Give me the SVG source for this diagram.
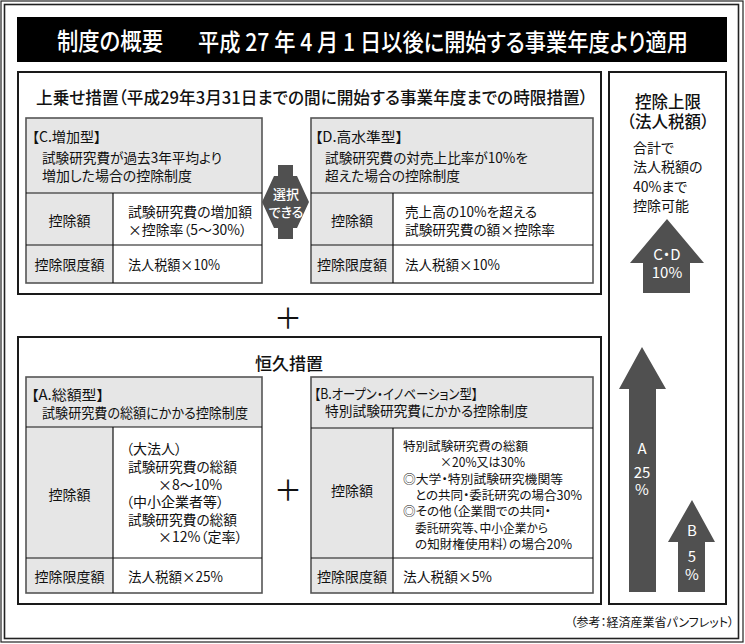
<svg xmlns="http://www.w3.org/2000/svg" width="745" height="644" viewBox="0 0 745 644">
<style>
text{font-family:"Noto Sans CJK JP","Noto Sans CJK SC",sans-serif;font-feature-settings:"palt" 1;dominant-baseline:central;fill:#111;font-size:14px}
.w{fill:#fff}
.m{text-anchor:middle}
.e{text-anchor:end}
.b{font-weight:500}
.s13{font-size:12.5px}
.box{fill:#fff;stroke:#1a1a1a;stroke-width:2}
.tbl{fill:none;stroke:#555;stroke-width:1.6}
.ln{stroke:#111;stroke-width:1.2}
.g{fill:#e6e6e6}
.arw{fill:#505050}
</style>
<rect width="745" height="644" fill="#fff"/>
<g id="outer-frame" fill="none" stroke="#222">
<rect x="1" y="1" width="742" height="641" stroke-width="1.2"/>
<rect x="4.5" y="4.5" width="734" height="634" stroke-width="1.6"/>
</g>
<g id="title-bar">
<rect x="17" y="17" width="710" height="45" fill="#000"/>
<g transform="translate(57,40) scale(0.8833,1)">
<text class="w b" x="0" y="0" style="font-size:24px" textLength="120" lengthAdjust="spacingAndGlyphs">制度の概要</text>
</g>
<g transform="translate(198,40) scale(0.8405,1)">
<text class="w b" x="0" y="0" style="font-size:24px" textLength="583" lengthAdjust="spacingAndGlyphs">平成 27 年 4 月 1 日以後に開始する事業年度より適用</text>
</g>
</g>
<g id="upper-box">
<rect class="box" x="18" y="72" width="583" height="222"/>
<text class="b" x="36" y="96" style="font-size:17px" textLength="552" lengthAdjust="spacingAndGlyphs">上乗せ措置（平成29年3月31日までの間に開始する事業年度までの時限措置）</text>
</g>
<g id="node-C">
<rect class="g" x="26" y="118" width="236" height="165"/>
<rect fill="#fff" x="113" y="193" width="149" height="90"/>
<rect class="tbl" x="26" y="118" width="236" height="165"/>
<line class="ln" x1="26" y1="193" x2="262" y2="193"/>
<line class="ln" x1="26" y1="245" x2="262" y2="245"/>
<line class="ln" x1="113" y1="193" x2="113" y2="283"/>
<text x="32" y="136" textLength="69" lengthAdjust="spacingAndGlyphs">【C.増加型】</text>
<text x="42" y="157" textLength="180" lengthAdjust="spacingAndGlyphs">試験研究費が過去3年平均より</text>
<text x="42" y="175" textLength="150" lengthAdjust="spacingAndGlyphs">増加した場合の控除制度</text>
<text class="m" x="69.5" y="220">控除額</text>
<text x="128" y="211" textLength="124" lengthAdjust="spacingAndGlyphs">試験研究費の増加額</text>
<text x="128" y="229" textLength="119" lengthAdjust="spacingAndGlyphs">×控除率（5〜30%）</text>
<text class="m" x="69.5" y="264">控除限度額</text>
<text x="128" y="264" textLength="92" lengthAdjust="spacingAndGlyphs">法人税額×10%</text>
</g>
<g id="node-D">
<rect class="g" x="311" y="118" width="282" height="165"/>
<rect fill="#fff" x="393" y="193" width="200" height="90"/>
<rect class="tbl" x="311" y="118" width="282" height="165"/>
<line class="ln" x1="311" y1="193" x2="593" y2="193"/>
<line class="ln" x1="311" y1="245" x2="593" y2="245"/>
<line class="ln" x1="393" y1="193" x2="393" y2="283"/>
<text x="315" y="136" textLength="88" lengthAdjust="spacingAndGlyphs">【D.高水準型】</text>
<text x="325" y="157" textLength="203" lengthAdjust="spacingAndGlyphs">試験研究費の対売上比率が10%を</text>
<text x="325" y="175" textLength="135" lengthAdjust="spacingAndGlyphs">超えた場合の控除制度</text>
<text class="m" x="352" y="220">控除額</text>
<text x="405" y="211" textLength="132" lengthAdjust="spacingAndGlyphs">売上高の10%を超える</text>
<text x="405" y="229" textLength="150" lengthAdjust="spacingAndGlyphs">試験研究費の額×控除率</text>
<text class="m" x="352" y="264">控除限度額</text>
<text x="405" y="264" textLength="95" lengthAdjust="spacingAndGlyphs">法人税額×10%</text>
</g>
<g id="connectors">
<polygon class="arw" points="278,165 293,165 293,176 297,176 309,202 297,228 293,228 293,239 278,239 278,228 274,228 262,202 274,176 278,176"/>
<text class="w m b" x="286" y="193" style="font-size:13px">選択</text>
<text class="w m b" x="286" y="211" style="font-size:13px">できる</text>
</g>
<g id="plus-upper">
<text class="m" x="288" y="317" style="font-size:28px">＋</text>
</g>
<g id="lower-box">
<rect class="box" x="18" y="337" width="583" height="267"/>
<text class="m b" x="289" y="362" style="font-size:17px">恒久措置</text>
</g>
<g id="node-A">
<rect class="g" x="26" y="377" width="236" height="216"/>
<rect fill="#fff" x="113" y="427" width="149" height="166"/>
<rect class="tbl" x="26" y="377" width="236" height="216"/>
<line class="ln" x1="26" y1="427" x2="262" y2="427"/>
<line class="ln" x1="26" y1="558" x2="262" y2="558"/>
<line class="ln" x1="113" y1="427" x2="113" y2="593"/>
<text x="31" y="394" textLength="73" lengthAdjust="spacingAndGlyphs">【A.総額型】</text>
<text x="42" y="412" textLength="206" lengthAdjust="spacingAndGlyphs">試験研究費の総額にかかる控除制度</text>
<text class="m" x="69.5" y="494">控除額</text>
<text x="126" y="448">（大法人）</text>
<text x="128" y="466" textLength="109" lengthAdjust="spacingAndGlyphs">試験研究費の総額</text>
<text x="158" y="483.5">×8〜10%</text>
<text x="126" y="501">（中小企業者等）</text>
<text x="128" y="518.5" textLength="109" lengthAdjust="spacingAndGlyphs">試験研究費の総額</text>
<text x="158" y="536">×12%（定率）</text>
<text class="m" x="69.5" y="576">控除限度額</text>
<text x="128" y="576" textLength="95" lengthAdjust="spacingAndGlyphs">法人税額×25%</text>
</g>
<g id="plus-lower">
<text class="m" x="288" y="489" style="font-size:28px">＋</text>
</g>
<g id="node-B">
<rect class="g" x="311" y="377" width="282" height="216"/>
<rect fill="#fff" x="393" y="428" width="200" height="165"/>
<rect class="tbl" x="311" y="377" width="282" height="216"/>
<line class="ln" x1="311" y1="428" x2="593" y2="428"/>
<line class="ln" x1="311" y1="558" x2="593" y2="558"/>
<line class="ln" x1="393" y1="428" x2="393" y2="593"/>
<text x="314" y="393" textLength="164" lengthAdjust="spacingAndGlyphs">【B.オープン・イノベーション型】</text>
<text x="325" y="410" textLength="203" lengthAdjust="spacingAndGlyphs">特別試験研究費にかかる控除制度</text>
<text class="m" x="352" y="490">控除額</text>
<text class="s13" x="403" y="445" textLength="125" lengthAdjust="spacingAndGlyphs">特別試験研究費の総額</text>
<text class="s13" x="440" y="461.5" textLength="85" lengthAdjust="spacingAndGlyphs">×20%又は30%</text>
<text class="s13" x="403" y="478" textLength="160" lengthAdjust="spacingAndGlyphs">◎大学・特別試験研究機関等</text>
<text class="s13" x="415" y="494" textLength="167" lengthAdjust="spacingAndGlyphs">との共同・委託研究の場合30%</text>
<text class="s13" x="403" y="510.5" textLength="148" lengthAdjust="spacingAndGlyphs">◎その他（企業間での共同・</text>
<text class="s13" x="415" y="527" textLength="133" lengthAdjust="spacingAndGlyphs">委託研究等、中小企業から</text>
<text class="s13" x="415" y="543" textLength="157" lengthAdjust="spacingAndGlyphs">の知財権使用料）の場合20%</text>
<text class="m" x="352" y="576">控除限度額</text>
<text x="403" y="576" textLength="89" lengthAdjust="spacingAndGlyphs">法人税額×5%</text>
</g>
<g id="limit-panel">
<rect class="box" x="609" y="72" width="117" height="532"/>
<text class="m b" x="668" y="101" style="font-size:16.5px">控除上限</text>
<text class="m b" x="668" y="121" style="font-size:16.5px">（法人税額）</text>
<text x="633" y="147">合計で</text>
<text x="633" y="166">法人税額の</text>
<text x="633" y="186">40%まで</text>
<text x="633" y="205">控除可能</text>
<polygon class="arw" points="667,219 704,263 690,263 690,293 643,293 643,263 630,263"/>
<text class="w m" x="667" y="253" style="font-size:15px">C・D</text>
<text class="w m" x="667" y="271" style="font-size:15px">10%</text>
<polygon class="arw" points="642,347 666,389 656,389 656,592 629,592 629,389 619,389"/>
<text class="w m" x="642" y="447" style="font-size:15px">A</text>
<text class="w m" x="642" y="471" style="font-size:15px">25</text>
<text class="w m" x="642" y="488" style="font-size:15px">%</text>
<polygon class="arw" points="692,500 715,542 705,542 705,592 678,592 678,542 668,542"/>
<text class="w m" x="692" y="529" style="font-size:15px">B</text>
<text class="w m" x="692" y="555" style="font-size:15px">5</text>
<text class="w m" x="692" y="573" style="font-size:15px">%</text>
</g>
<g id="footer">
<text class="e" x="734" y="621" style="font-size:12px">（参考：経済産業省パンフレット）</text>
</g>
</svg>
